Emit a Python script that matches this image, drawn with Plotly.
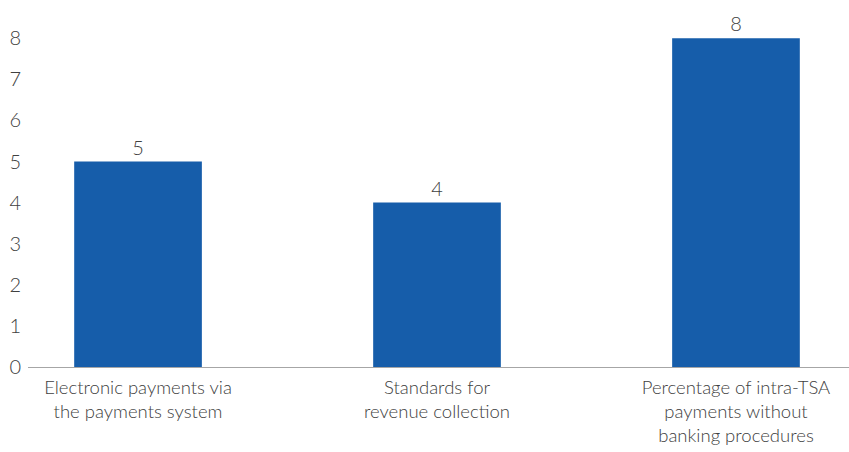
import plotly.graph_objects as go

categories = ["Electronic payments via<br>the payments system",
              "Standards for<br>revenue collection",
              "Percentage of intra-TSA<br>payments without<br>banking procedures"]
values = [5, 4, 8]
y_ticks = [0, 1, 2, 3, 4, 5, 6, 7, 8]

FONT = "Lato"
GRAY = "#404040"

fig = go.Figure(go.Bar(
    x=categories, y=values,
    marker=dict(color="#165DAA", line=dict(width=0)),
    text=[str(v) for v in values], textposition="outside",
    textfont=dict(family=FONT, size=20, color=GRAY, weight=300),
    cliponaxis=False,
))

fig.update_layout(
    width=849, height=452,
    margin=dict(l=28, r=0, t=0, b=85),
    plot_bgcolor="white", paper_bgcolor="white",
    bargap=0.573, showlegend=False,
    font=dict(family=FONT, color=GRAY, weight=300),
)
fig.update_xaxes(
    range=[-0.368, 2.378], showgrid=False, showline=True,
    linecolor="#A6A6A6", linewidth=1, ticks="", ticklabelstandoff=4,
    tickfont=dict(family=FONT, size=18.5, color=GRAY, weight=300),
)
fig.update_yaxes(
    range=[0, 8.93], tickvals=y_ticks, showgrid=False, zeroline=False,
    showline=False, ticks="", ticklabelstandoff=6,
    tickfont=dict(family=FONT, size=20, color=GRAY, weight=300),
)

fig.write_html("out.html")
